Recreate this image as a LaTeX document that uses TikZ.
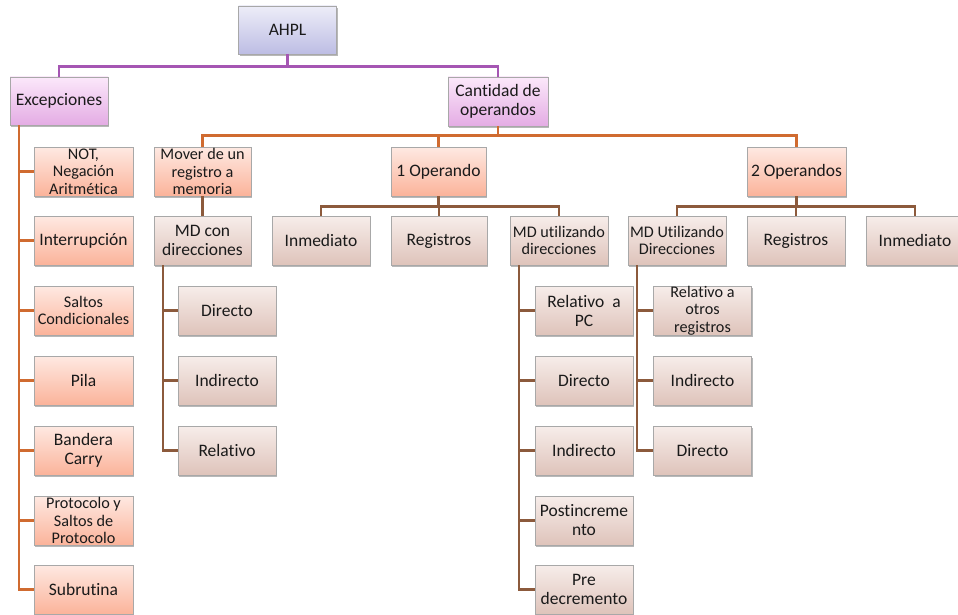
\documentclass[tikz,border=0pt]{standalone}
\usepackage{fontspec}
\setmainfont{Carlito}[Ligatures=NoCommon]
\usetikzlibrary{shadows}

\definecolor{linepurple}{HTML}{A556B3}
\definecolor{lineorange}{HTML}{D06B30}
\definecolor{linebrown}{HTML}{8C5A3C}
\definecolor{boxedge}{HTML}{A8A8A8}
\definecolor{textcol}{HTML}{1A1A1A}
\definecolor{lavtop}{HTML}{EDEDF8}
\definecolor{lavbot}{HTML}{BDBDE4}
\definecolor{pinktop}{HTML}{FBE8FA}
\definecolor{pinkbot}{HTML}{E4ACE4}
\definecolor{orgtop}{HTML}{FEE9E2}
\definecolor{orgbot}{HTML}{FBB39A}
\definecolor{taupetop}{HTML}{F7EDEA}
\definecolor{taupebot}{HTML}{DEC3BA}

\tikzset{
  box/.style={draw=boxedge, line width=0.6pt, minimum width=98pt,
    minimum height=49pt, inner sep=0pt, align=center, text=textcol,
    font=\fontsize{17.5}{19}\selectfont,
    drop shadow={shadow xshift=1.3pt, shadow yshift=-1.6pt,
      opacity=0.28, fill=black}},
  lavbox/.style={box, top color=lavtop, bottom color=lavbot},
  pinkbox/.style={box, top color=pinktop, bottom color=pinkbot},
  orgbox/.style={box, top color=orgtop, bottom color=orgbot},
  taupebox/.style={box, top color=taupetop, bottom color=taupebot},
  tight/.style={font=\fontsize{16.2}{17.4}\selectfont},
  wire/.style={line width=2.6pt},
  purplewire/.style={wire, draw=linepurple},
  orangewire/.style={wire, draw=lineorange},
  brownwire/.style={wire, draw=linebrown},
}

\begin{document}
\begin{tikzpicture}[x=1pt, y=-1pt]
\useasboundingbox (0,0) rectangle (958,615);

% root and first level
\node[lavbox, minimum height=48pt] (ahpl) at (287.5,30) {AHPL};
\node[pinkbox, minimum height=48pt] (exc) at (59,101) {Excepciones};
\node[pinkbox, minimum width=100pt] (cant) at (498,101.5) {Cantidad de\\operandos};

% exceptions
\node[orgbox, minimum width=99pt, tight] (e1) at (83.5,171.5) {NOT,\\Negación\\Aritmética};
\node[orgbox, minimum width=99pt] (e2) at (83.5,240.5) {Interrupción};
\node[orgbox, minimum width=99pt, tight] (e3) at (83.5,310.5) {Saltos\\Condicionales};
\node[orgbox, minimum width=99pt] (e4) at (83.5,380.5) {Pila};
\node[orgbox, minimum width=99pt] (e5) at (83.5,450.5) {Bandera\\Carry};
\node[orgbox, minimum width=99pt, tight] (e6) at (83.5,520.5) {Protocolo y\\Saltos de\\Protocolo};
\node[orgbox, minimum width=99pt] (e7) at (83.5,589.5) {Subrutina};

% number of operands
\node[orgbox, minimum width=97pt, tight] (mov) at (202.5,171.5) {Mover de un\\registro a\\memoria};
\node[orgbox, minimum width=95pt] (op1) at (438.5,171.5) {1 Operando};
\node[orgbox, minimum width=99pt] (op2) at (796.5,171.5) {2 Operandos};

% third level
\node[taupebox, minimum width=97pt] (mdc) at (202.5,240.5) {MD con\\direcciones};
\node[taupebox] (inm1) at (321,240.5) {Inmediato};
\node[taupebox, minimum width=96pt] (reg1) at (439,240.5) {Registros};
\node[taupebox, tight] (mdu) at (559,240.5) {MD utilizando\\direcciones};
\node[taupebox, tight] (mdd) at (677,240.5) {MD Utilizando\\Direcciones};
\node[taupebox] (reg2) at (796,240.5) {Registros};
\node[taupebox] (inm2) at (915,240.5) {Inmediato};

% modes under "MD con direcciones"
\node[taupebox] (c1) at (227,310.5) {Directo};
\node[taupebox] (c2) at (227,380.5) {Indirecto};
\node[taupebox] (c3) at (227,450.5) {Relativo};

% modes under "MD utilizando direcciones"
\node[taupebox] (u1) at (584,310.5) {Relativo\ \ a\\PC};
\node[taupebox] (u2) at (584,380.5) {Directo};
\node[taupebox] (u3) at (584,450.5) {Indirecto};
\node[taupebox] (u4) at (584,520.5) {Postincreme\\nto};
\node[taupebox] (u5) at (584,589.5) {Pre\\decremento};

% modes under "MD Utilizando Direcciones"
\node[taupebox, tight] (d1) at (702.5,310.5) {Relativo a\\otros\\registros};
\node[taupebox] (d2) at (702.5,380.5) {Indirecto};
\node[taupebox] (d3) at (702.5,450.5) {Directo};

% connectors
\draw[purplewire] (ahpl.south) -- ++(0,12) -| (exc.north);
\draw[purplewire] (ahpl.south) -- ++(0,12) -| (cant.north);

\draw[orangewire] (cant.south) -- ++(0,9) -| (mov.north);
\draw[orangewire] (cant.south) -- ++(0,9) -| (op1.north);
\draw[orangewire] (cant.south) -- ++(0,9) -| (op2.north);

\coordinate (etrunk) at ([xshift=-40pt]exc.south);
\foreach \n in {e1,e2,e3,e4,e5,e6,e7}
  \draw[orangewire] (etrunk) |- (\n.west);

\draw[brownwire] (mov.south) -- (mdc.north);

\draw[brownwire] (op1.south) -- ++(0,10) -| (inm1.north);
\draw[brownwire] (op1.south) -- ++(0,10) -| (reg1.north);
\draw[brownwire] (op1.south) -- ++(0,10) -| (mdu.north);

\draw[brownwire] (op2.south) -- ++(0,10) -| (mdd.north);
\draw[brownwire] (op2.south) -- ++(0,10) -| (reg2.north);
\draw[brownwire] (op2.south) -- ++(0,10) -| (inm2.north);

\coordinate (ctrunk) at ([xshift=-39.5pt]mdc.south);
\foreach \n in {c1,c2,c3}
  \draw[brownwire] (ctrunk) |- (\n.west);

\coordinate (utrunk) at ([xshift=-40pt]mdu.south);
\foreach \n in {u1,u2,u3,u4,u5}
  \draw[brownwire] (utrunk) |- (\n.west);

\coordinate (dtrunk) at ([xshift=-40pt]mdd.south);
\foreach \n in {d1,d2,d3}
  \draw[brownwire] (dtrunk) |- (\n.west);
\end{tikzpicture}
\end{document}
